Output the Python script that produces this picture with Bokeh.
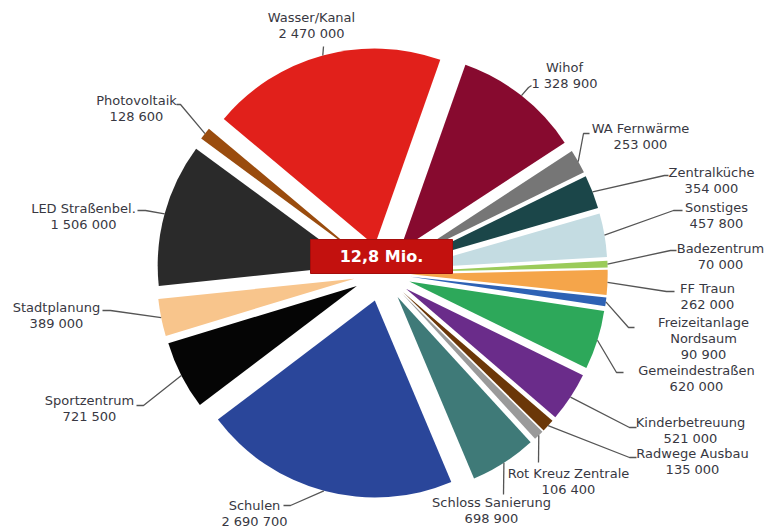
import math
from bokeh.plotting import figure
from bokeh.models import Range1d, ColumnDataSource
from bokeh.core.properties import value
from bokeh.embed import file_html
from bokeh.resources import INLINE

# ---------------- data ----------------
categories = ["Wasser/Kanal", "Wihof", "WA Fernwärme", "Zentralküche", "Sonstiges",
              "Badezentrum", "FF Traun", "Freizeitanlage\nNordsaum", "Gemeindestraßen",
              "Kinderbetreuung", "Radwege Ausbau", "Rot Kreuz Zentrale", "Schloss Sanierung",
              "Schulen", "Sportzentrum", "Stadtplanung", "LED Straßenbel.", "Photovoltaik"]
amounts = [2470000, 1328900, 253000, 354000, 457800,
           70000, 262000, 90900, 620000,
           521000, 135000, 106400, 698900,
           2690700, 721500, 389000, 1506000, 128600]
total_label = "12,8 Mio."

# ---------------- styles ----------------
colors = ["#E1201B", "#870A2F", "#767676", "#1B4649", "#C4DCE2",
          "#9BCB5A", "#F5A54A", "#2E62B5", "#2DA85A",
          "#6A2C8A", "#6B3708", "#9A9A9A", "#3F7A78",
          "#2A469A", "#050505", "#F8C58C", "#2A2A2A", "#9A4C0E"]

# ---------------- layout (image pixel coords, y downward) ----------------
W, H = 772, 529
def Y(v):
    return H - v

CX, CY = 381.7, 272.5       # pie centre
R = 197.0                   # radius
EXPLODE = 28.5              # explode offset
START = 140.0               # start angle (deg), clockwise

# label anchor (center of first line) and leader bend points
label_pos = [(311, 17), (564, 67), (640, 128), (711, 172), (716, 207),
             (720, 248), (707, 288), (703, 322), (696, 370),
             (690, 422), (692, 453), (568, 473), (491, 502),
             (254, 505), (89, 400), (56, 307), (83, 208), (136, 100)]
leader_pts = [[(323, 46)], [(528, 87), (531, 85)], [(583, 133), (589, 133)],
              [(664, 175), (668, 175)], [(673, 210), (682, 210)],
              [(670, 250), (676, 250)], [(666, 291), (674, 291)],
              [(628, 327), (634, 327)], [(616, 372), (623, 372)],
              [(629, 427), (636, 427)], [(629, 457), (636, 457)],
              [(538, 462)], [(503, 494)],
              [(290, 505), (283, 505)], [(143, 405), (136, 405)],
              [(110, 310), (102, 310)], [(145, 210), (137, 210)],
              [(180, 104), (176, 104)]]
LINE_H = 16

p = figure(width=W, height=H, output_backend="svg", toolbar_location=None,
           x_range=Range1d(0, W), y_range=Range1d(0, H),
           min_border=0)
p.axis.visible = False
p.grid.visible = False
p.outline_line_color = None
p.background_fill_color = "white"
p.border_fill_color = "white"

total = sum(amounts)
xs, ys, sa, ea, mids = [], [], [], [], []
cum = 0.0
for v in amounts:
    a_hi = START - cum / total * 360.0
    cum += v
    a_lo = START - cum / total * 360.0
    mid = math.radians((a_hi + a_lo) / 2)
    xs.append(CX + EXPLODE * math.cos(mid))
    ys.append(Y(CY) + EXPLODE * math.sin(mid))
    sa.append(math.radians(a_lo))
    ea.append(math.radians(a_hi))
    mids.append(mid)

src = ColumnDataSource(dict(x=xs, y=ys, sa=sa, ea=ea, color=colors))
p.wedge(x="x", y="y", radius=R, start_angle="sa", end_angle="ea",
        fill_color="color", line_color=None, source=src)

# leader lines
lx, ly = [], []
for i in range(len(amounts)):
    sx = xs[i] + R * math.cos(mids[i])
    sy = ys[i] + R * math.sin(mids[i])
    px = [sx] + [pt[0] for pt in leader_pts[i]]
    py = [sy] + [Y(pt[1]) for pt in leader_pts[i]]
    lx.append(px)
    ly.append(py)
p.multi_line(xs=lx, ys=ly, line_color="#555555", line_width=1.3)

# labels
tx, ty, tt = [], [], []
for i, name in enumerate(categories):
    lines = name.split("\n") + [f"{amounts[i]:,}".replace(",", " ")]
    x0, y0 = label_pos[i]
    for k, ln in enumerate(lines):
        tx.append(x0)
        ty.append(Y(y0 + k * LINE_H))
        tt.append(ln)
p.text(x=tx, y=ty, text=tt, text_align="center", text_baseline="middle",
       text_font=value("DejaVu Sans"), text_font_size="13px", text_color="#383842")

# centre total box
p.rect(x=[381], y=[Y(256)], width=142, height=34, fill_color="#C3110E",
       line_color="#A50D0B", line_width=1)
p.text(x=[381], y=[Y(256)], text=[total_label], text_align="center", text_baseline="middle",
       text_font=value("DejaVu Sans"), text_font_style="bold", text_font_size="16px",
       text_color="white")

open("out.html", "w").write(file_html(p, INLINE))
